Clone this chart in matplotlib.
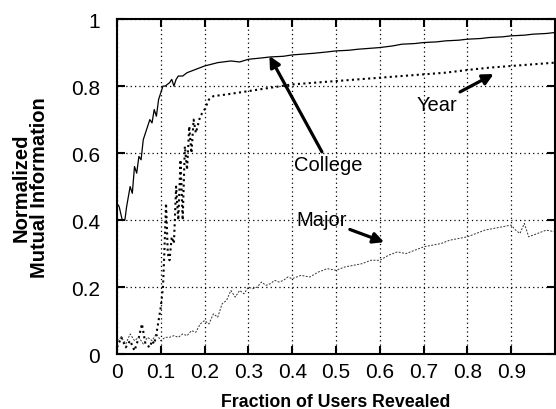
import matplotlib
matplotlib.use('Agg')
import matplotlib.pyplot as plt

# ------------------------------------------------------------------
# Data
# ------------------------------------------------------------------
college_x = [0.0, 0.005, 0.012, 0.018, 0.022, 0.03, 0.035, 0.04, 0.045, 0.05,
             0.055, 0.06, 0.065, 0.07, 0.075, 0.08, 0.085, 0.09, 0.095, 0.10,
             0.105, 0.11, 0.12, 0.125, 0.13, 0.135, 0.14, 0.15, 0.16, 0.17,
             0.18, 0.20, 0.23, 0.26, 0.28, 0.30, 0.33, 0.35, 0.38, 0.40,
             0.43, 0.45, 0.48, 0.50, 0.53, 0.55, 0.58, 0.60, 0.63, 0.65,
             0.68, 0.70, 0.73, 0.75, 0.78, 0.80, 0.83, 0.85, 0.88, 0.90,
             0.93, 0.95, 0.98, 1.0]
college_y = [0.45, 0.44, 0.40, 0.40, 0.44, 0.50, 0.48, 0.56, 0.54, 0.59,
             0.58, 0.64, 0.66, 0.68, 0.70, 0.69, 0.73, 0.71, 0.76, 0.78,
             0.80, 0.80, 0.81, 0.82, 0.80, 0.82, 0.83, 0.83, 0.84, 0.845,
             0.85, 0.86, 0.87, 0.875, 0.872, 0.88, 0.884, 0.887, 0.889, 0.893,
             0.896, 0.898, 0.902, 0.905, 0.907, 0.91, 0.913, 0.915, 0.92, 0.925,
             0.927, 0.93, 0.932, 0.935, 0.937, 0.94, 0.942, 0.945, 0.947, 0.95,
             0.952, 0.955, 0.957, 0.96]

year_x = [0.0, 0.01, 0.02, 0.03, 0.04, 0.05, 0.057, 0.065, 0.075, 0.08,
          0.085, 0.09, 0.095, 0.10, 0.105, 0.108, 0.112, 0.116, 0.12, 0.125,
          0.13, 0.135, 0.14, 0.145, 0.15, 0.155, 0.16, 0.165, 0.17, 0.175,
          0.18, 0.19, 0.20, 0.21, 0.22, 0.25, 0.30, 0.35, 0.40, 0.45,
          0.50, 0.55, 0.60, 0.65, 0.70, 0.75, 0.80, 0.85, 0.90, 0.95, 1.0]
year_y = [0.02, 0.05, 0.02, 0.04, 0.01, 0.05, 0.09, 0.03, 0.02, 0.04,
          0.03, 0.06, 0.10, 0.14, 0.20, 0.30, 0.45, 0.30, 0.28, 0.35,
          0.33, 0.50, 0.40, 0.58, 0.40, 0.62, 0.55, 0.68, 0.60, 0.70,
          0.66, 0.71, 0.73, 0.76, 0.77, 0.775, 0.785, 0.795, 0.805, 0.81,
          0.815, 0.82, 0.825, 0.83, 0.835, 0.84, 0.848, 0.855, 0.86, 0.865, 0.87]

major_x = [0.0, 0.01, 0.02, 0.03, 0.04, 0.05, 0.06, 0.07, 0.08, 0.09,
           0.10, 0.11, 0.12, 0.13, 0.14, 0.15, 0.16, 0.17, 0.18, 0.19,
           0.20, 0.21, 0.22, 0.23, 0.24, 0.25, 0.26, 0.27, 0.28, 0.29,
           0.30, 0.31, 0.32, 0.33, 0.34, 0.35, 0.36, 0.37, 0.38, 0.39,
           0.40, 0.42, 0.44, 0.46, 0.48, 0.50, 0.52, 0.54, 0.56, 0.58,
           0.60, 0.62, 0.64, 0.66, 0.68, 0.70, 0.72, 0.74, 0.76, 0.78,
           0.80, 0.82, 0.84, 0.86, 0.88, 0.90, 0.91, 0.92, 0.93, 0.94,
           0.96, 0.98, 1.0]
major_y = [0.04, 0.05, 0.03, 0.06, 0.04, 0.05, 0.03, 0.05, 0.04, 0.06,
           0.04, 0.05, 0.05, 0.055, 0.05, 0.06, 0.055, 0.07, 0.065, 0.09,
           0.10, 0.09, 0.12, 0.11, 0.15, 0.16, 0.19, 0.17, 0.19, 0.18,
           0.20, 0.195, 0.20, 0.215, 0.205, 0.21, 0.22, 0.215, 0.22, 0.23,
           0.225, 0.235, 0.23, 0.245, 0.255, 0.25, 0.26, 0.265, 0.27, 0.28,
           0.28, 0.295, 0.305, 0.30, 0.31, 0.32, 0.325, 0.33, 0.34, 0.345,
           0.35, 0.36, 0.37, 0.375, 0.38, 0.385, 0.37, 0.36, 0.39, 0.35,
           0.36, 0.37, 0.365]

x_ticks = [0, 0.1, 0.2, 0.3, 0.4, 0.5, 0.6, 0.7, 0.8, 0.9]
x_tick_labels = ['0', '0.1', '0.2', '0.3', '0.4', '0.5', '0.6', '0.7', '0.8', '0.9']
y_ticks = [0, 0.2, 0.4, 0.6, 0.8, 1.0]
y_tick_labels = ['0', '0.2', '0.4', '0.6', '0.8', '1']

# ------------------------------------------------------------------
# Figure
# ------------------------------------------------------------------
plt.rcParams['font.family'] = ['Liberation Sans', 'DejaVu Sans']

fig = plt.figure(figsize=(5.56, 4.10), dpi=100)
ax = fig.add_axes([0.2104, 0.134, 0.7878, 0.817])

ax.plot(college_x, college_y, color='black', lw=0.9)
ax.plot(year_x, year_y, color='black', lw=1.5, linestyle=(0, (1, 1.6)))
ax.plot(major_x, major_y, color='#333333', lw=0.7, linestyle=(0, (2, 1.5)))

ax.set_xlim(0, 1)
ax.set_ylim(0, 1)
ax.set_xticks(x_ticks)
ax.set_xticklabels(x_tick_labels)
ax.set_yticks(y_ticks)
ax.set_yticklabels(y_tick_labels)
ax.tick_params(direction='in', length=6, width=1.5, labelsize=15,
               top=True, right=True)
ax.tick_params(axis='y', pad=12)
ax.tick_params(axis='x', pad=6)
for s in ax.spines.values():
    s.set_linewidth(1.5)
ax.grid(True, color='black', linestyle=(0, (1, 2.5)), lw=0.9)

ax.set_xlabel('Fraction of Users Revealed', fontsize=12.8, fontweight='bold', labelpad=8)
ax.set_ylabel('Normalized\nMutual Information', fontsize=14.5, fontweight='bold',
              labelpad=16, linespacing=0.95)

arrow = dict(arrowstyle='-|>', lw=2.3, color='black', mutation_scale=16, shrinkA=0, shrinkB=0)
ax.annotate('College', xy=(0.348, 0.89), xytext=(0.405, 0.567), fontsize=14.5,
            ha='left', va='center', arrowprops=arrow)
ax.annotate('Year', xy=(0.86, 0.836), xytext=(0.684, 0.746), fontsize=14.5,
            ha='left', va='center', arrowprops=arrow)
ax.annotate('Major', xy=(0.61, 0.334), xytext=(0.41, 0.403), fontsize=14.5,
            ha='left', va='center', arrowprops=arrow)

fig.savefig('out.png', dpi=100)
